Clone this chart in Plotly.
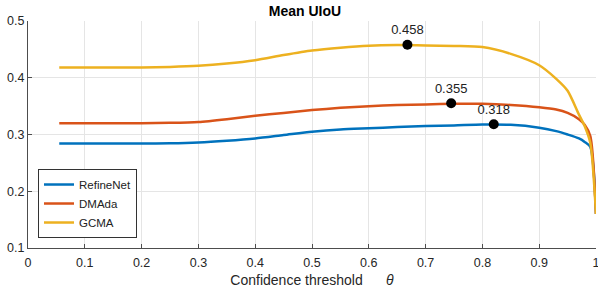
import plotly.graph_objects as go

x = [0.055, 0.1, 0.15, 0.2, 0.25, 0.3, 0.35, 0.4, 0.45, 0.5, 0.55, 0.6, 0.65,
     0.7, 0.75, 0.8, 0.85, 0.9, 0.93, 0.95, 0.97, 0.98, 0.99, 1.0]

refinenet = [0.284, 0.284, 0.284, 0.284, 0.2845, 0.286, 0.289, 0.293, 0.299, 0.305, 0.309,
             0.311, 0.313, 0.315, 0.316, 0.3175, 0.317, 0.312, 0.306, 0.300, 0.293, 0.287,
             0.278, 0.16]
dmada = [0.320, 0.320, 0.320, 0.320, 0.3205, 0.322, 0.327, 0.333, 0.338, 0.343, 0.347,
         0.350, 0.352, 0.353, 0.354, 0.354, 0.352, 0.348, 0.344, 0.338, 0.327, 0.317,
         0.297, 0.16]
gcma = [0.418, 0.418, 0.418, 0.418, 0.419, 0.421, 0.425, 0.431, 0.440, 0.448, 0.453,
        0.4565, 0.4575, 0.457, 0.456, 0.454, 0.442, 0.422, 0.398, 0.377, 0.335, 0.315,
        0.285, 0.16]

peak_x = [0.668, 0.745, 0.82]
peak_y = [0.458, 0.355, 0.318]
peak_labels = ["0.458", "0.355", "0.318"]

names = ["RefineNet", "DMAda", "GCMA"]
colors = ["#0072BD", "#D95319", "#EDB120"]

fig = go.Figure()
for name, ys, c in zip(names, [refinenet, dmada, gcma], colors):
    fig.add_trace(go.Scatter(x=x, y=ys, mode="lines", name=name,
                             line=dict(color=c, width=2.5, shape="spline", smoothing=0.7)))

fig.add_trace(go.Scatter(x=peak_x, y=peak_y, mode="markers+text", text=peak_labels,
                         textposition="top center", showlegend=False,
                         textfont=dict(size=13, color="#222"),
                         marker=dict(color="black", size=10)))

font = "Liberation Sans, Arial, sans-serif"
fig.update_layout(
    width=598, height=289,
    margin=dict(l=28, r=2, t=21, b=41),
    plot_bgcolor="white", paper_bgcolor="white",
    font=dict(family=font, size=12.5, color="#262626"),
    title=dict(text="<b>Mean UIoU</b>", x=305 / 598,
               xanchor="center", y=1 - 11 / 289, yanchor="middle",
               font=dict(size=14, color="black")),
    legend=dict(x=0.0176, y=0.044, xanchor="left", yanchor="bottom",
                bordercolor="#333", borderwidth=1, bgcolor="white",
                font=dict(size=11.5, color="#222"),
                tracegroupgap=0, itemwidth=30),
    showlegend=True,
)
fig.update_xaxes(range=[0, 1], tickvals=[i / 10 for i in range(11)],
                 ticktext=["0", "0.1", "0.2", "0.3", "0.4", "0.5", "0.6", "0.7", "0.8", "0.9", "1"],
                 showgrid=True, gridcolor="#e5e5e5", gridwidth=1,
                 showline=True, linecolor="#4d4d4d", linewidth=1,
                 ticks="inside", ticklen=4, tickcolor="#4d4d4d",
                 ticklabelstandoff=3, ticklabeloverflow="allow",
                 zeroline=False, automargin=False,
                 title=dict(text="Confidence threshold      <i>θ</i>", standoff=6,
                            font=dict(size=14)))
fig.update_yaxes(range=[0.1, 0.5], tickvals=[0.1, 0.2, 0.3, 0.4, 0.5],
                 ticktext=["0.1", "0.2", "0.3", "0.4", "0.5"],
                 showgrid=True, gridcolor="#e5e5e5", gridwidth=1,
                 showline=True, linecolor="#4d4d4d", linewidth=1,
                 ticks="inside", ticklen=4, tickcolor="#4d4d4d",
                 zeroline=False, automargin=False)

fig.write_html("out.html", config={"displayModeBar": False},
               post_script="document.body.style.margin='0';")
